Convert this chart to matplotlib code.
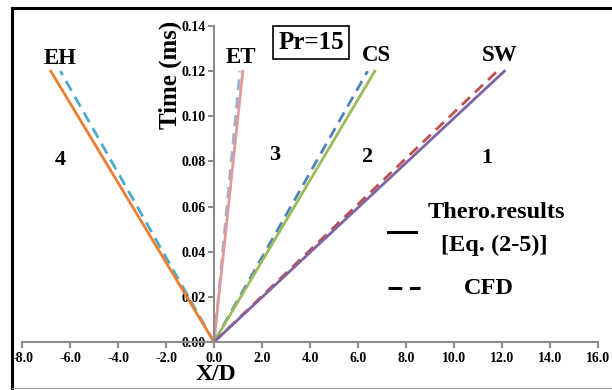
import matplotlib.pyplot as plt
from matplotlib.lines import Line2D
import numpy as np

# data
time_ms = [0.0, 0.12]
regimes = ['EH', 'ET', 'CS', 'SW']
theory_xd = [-6.8, 1.2, 6.7, 12.1]
cfd_xd = [-6.4, 1.08, 6.4, 11.8]
theory_colors = ['#ED7D31', '#E09A9A', '#9BBB59', '#8064A2']
cfd_colors = ['#4BACC6', '#95B3D7', '#4F81BD', '#C0504D']
region_numbers = ['4', '3', '2', '1']
x_ticks = np.arange(-8, 16.1, 2)
y_ticks = np.arange(0, 0.141, 0.02)

plt.rcParams['font.family'] = ['Liberation Serif', 'DejaVu Serif']
plt.rcParams['font.weight'] = 'bold'

fig = plt.figure(figsize=(6.12, 3.9), dpi=100)
W, H = 612, 390
ax = fig.add_axes([22 / W, 1 - 342 / H, 576 / W, 316 / H])

for i in range(len(regimes)):
    ax.plot([0, cfd_xd[i]], time_ms, color=cfd_colors[i], lw=2.0,
            dashes=(4, 2.5), solid_capstyle='butt')
    ax.plot([0, theory_xd[i]], time_ms, color=theory_colors[i], lw=2.0)

ax.set_xlim(-8, 16)
ax.set_ylim(0, 0.14)
ax.set_xticks(x_ticks)
ax.set_yticks(y_ticks)
ax.set_xticklabels([f'{v:.1f}' for v in x_ticks], fontsize=8.5, fontweight='bold')
ax.set_yticklabels([f'{v:.2f}' for v in y_ticks], fontsize=8.5, fontweight='bold')

for s in ['top', 'right']:
    ax.spines[s].set_visible(False)
ax.spines['left'].set_position(('data', 0))
ax.spines['bottom'].set_position(('data', 0))
for s in ['left', 'bottom']:
    ax.spines[s].set_color('#8C8C8C')
    ax.spines[s].set_linewidth(1.5)
ax.tick_params(axis='x', direction='out', length=4, width=1.5, color='#8C8C8C', pad=3)
ax.tick_params(axis='y', direction='out', length=4, width=1.5, color='#8C8C8C', pad=2)

# regime labels
label_pos = [(-6.42, 0.1258), (1.12, 0.126), (6.79, 0.127), (11.9, 0.127)]
for name, (x, y) in zip(regimes, label_pos):
    ax.text(x, y, name, fontsize=16.5, fontweight='bold', ha='center', va='center')
num_pos = [(-6.42, 0.0806), (2.54, 0.0828), (6.375, 0.082), (11.375, 0.0815)]
for n, (x, y) in zip(region_numbers, num_pos):
    ax.text(x, y, n, fontsize=16, fontweight='bold', ha='center', va='center')

ax.text(4.04, 0.1325, 'Pr=15', fontsize=18, fontweight='bold', ha='center', va='center',
        bbox=dict(boxstyle='square,pad=0.2', fc='white', ec='black', lw=1.2))

# axis titles
fig.text(170 / W, 1 - 75 / H, 'Time (ms)', rotation=90, fontsize=18, fontweight='bold',
         ha='center', va='center')
fig.text(216 / W, 1 - 374 / H, 'X/D', fontsize=17, fontweight='bold', ha='center', va='center')

# manual legend
fig.add_artist(Line2D([388 / W, 416 / W], [1 - 232 / H] * 2, color='black', lw=2.2))
fig.text(496 / W, 1 - 213 / H, 'Thero.results', fontsize=17.5, fontweight='bold',
         ha='center', va='center')
fig.text(494 / W, 1 - 245 / H, '[Eq. (2-5)]', fontsize=17.5, fontweight='bold',
         ha='center', va='center')
fig.add_artist(Line2D([388 / W, 420 / W], [1 - 288 / H] * 2, color='black', lw=2.2,
                      dashes=(4.5, 2.5)))
fig.text(489 / W, 1 - 288 / H, 'CFD', fontsize=17.5, fontweight='bold', ha='center', va='center')

# outer frame
fig.add_artist(Line2D([12 / W, 12 / W], [1 - 8 / H, 1 - 388 / H], color='black', lw=2.2))
fig.add_artist(Line2D([12 / W, 1.0], [1 - 8 / H] * 2, color='black', lw=2.2))
fig.add_artist(Line2D([12 / W, 1.0], [1 - 388 / H] * 2, color='#999999', lw=0.8))

fig.savefig('out.png', dpi=100)
